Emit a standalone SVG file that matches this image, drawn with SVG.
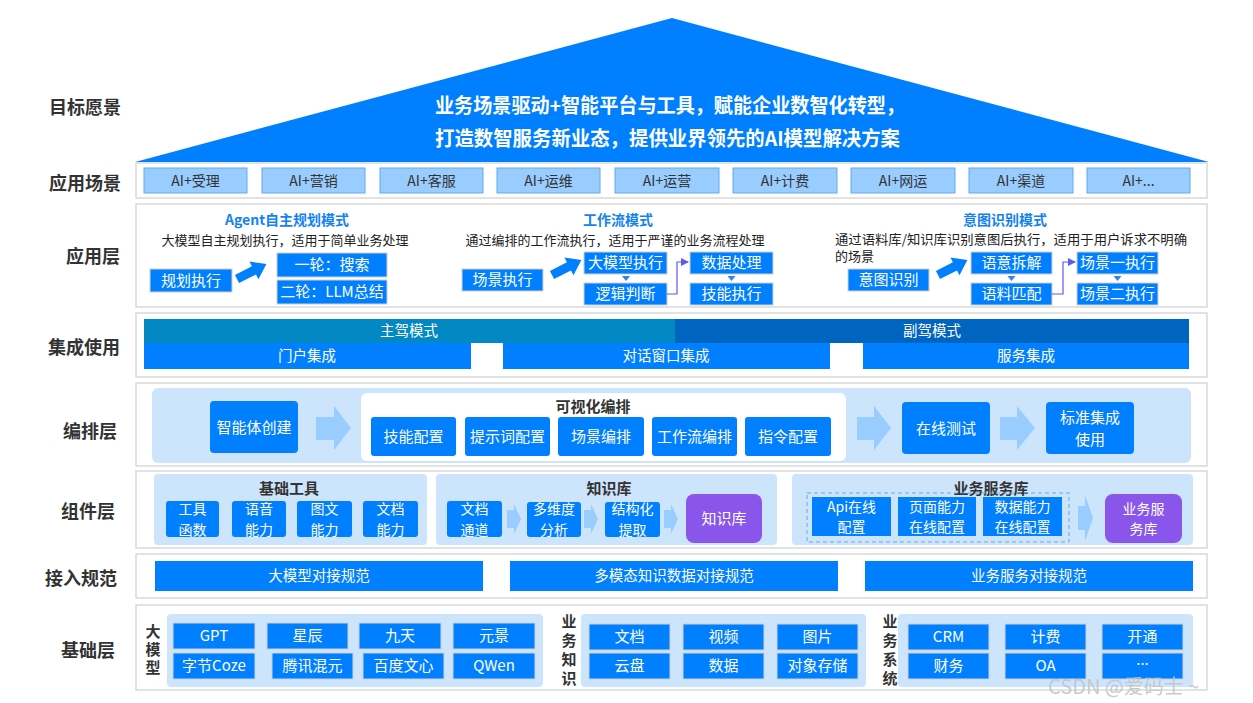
<svg xmlns="http://www.w3.org/2000/svg" width="1253" height="703" viewBox="0 0 1253 703">
<style>
text{font-family:"Noto Sans CJK SC","Noto Sans",sans-serif}
.lbl{font-size:18px;font-weight:bold;fill:#333;text-anchor:middle}
.panel{fill:#fff;stroke:#d9d9d9;stroke-width:1.5}
.cell{fill:#99ccff;stroke:#63aaf0;stroke-width:1}
.ct{font-size:14px;fill:#333;text-anchor:middle}
.bb{fill:#0080ff;stroke:#d0d0d0;stroke-width:1}
.bf{fill:#0080ff}
.wt{font-size:15px;fill:#fff;text-anchor:middle}
.w2{font-size:14px;fill:#fff;text-anchor:middle}
.ws{font-size:14.5px;fill:#fff;text-anchor:middle}
.ttl{font-size:14px;font-weight:bold;fill:#1482f2;text-anchor:middle}
.sub{font-size:13px;fill:#222}
.lb{fill:#cce5fd}
.arr{fill:#99ccff}
.pu{fill:#8a55ea}
.ph{font-size:15px;font-weight:bold;fill:#333;text-anchor:middle}
.vt{font-size:15px;font-weight:bold;fill:#333;text-anchor:middle;writing-mode:vertical-rl}
.conn{fill:none;stroke:#5b5bf5;stroke-width:1.2}
.tri{fill:#3b7fe6}
.fat{fill:#0080ff}
</style>
<defs>
<marker id="ah" markerWidth="8" markerHeight="8" refX="7" refY="4" orient="auto" markerUnits="userSpaceOnUse">
<path d="M0,0 L8,4 L0,8 z" fill="#5b5bf5"/>
</marker>
<path id="fatArrow" d="M0,-4.5 L19,-4.5 L19,-10 L33,0 L19,10 L19,4.5 L0,4.5 z"/>
</defs>
<rect width="1253" height="703" fill="#fff"/>

<!-- left labels -->
<g id="labels">
<text class="lbl" x="85" y="114">目标愿景</text>
<text class="lbl" x="85" y="190">应用场景</text>
<text class="lbl" x="93" y="263">应用层</text>
<text class="lbl" x="84" y="354">集成使用</text>
<text class="lbl" x="90" y="438">编排层</text>
<text class="lbl" x="88" y="518">组件层</text>
<text class="lbl" x="81" y="585">接入规范</text>
<text class="lbl" x="88" y="657">基础层</text>
</g>

<!-- vision triangle -->
<g id="vision">
<polygon points="672,18 1209,162 135,162" fill="#0080ff"/>
<text x="435" y="113" font-size="20" font-weight="bold" fill="#fff" textLength="470" lengthAdjust="spacingAndGlyphs">业务场景驱动+智能平台与工具，赋能企业数智化转型，</text>
<text x="435" y="146" font-size="20" font-weight="bold" fill="#fff" textLength="465" lengthAdjust="spacingAndGlyphs">打造数智服务新业态，提供业界领先的AI模型解决方案</text>
</g>

<!-- scenarios -->
<g id="scenarios">
<rect class="panel" x="136" y="163" width="1071" height="35"/>
<rect class="cell" x="144" y="168" width="103" height="25"/><text class="ct" x="195.5" y="186">AI+受理</text>
<rect class="cell" x="262" y="168" width="103" height="25"/><text class="ct" x="313.5" y="186">AI+营销</text>
<rect class="cell" x="380" y="168" width="103" height="25"/><text class="ct" x="431.5" y="186">AI+客服</text>
<rect class="cell" x="497" y="168" width="103" height="25"/><text class="ct" x="548.5" y="186">AI+运维</text>
<rect class="cell" x="615" y="168" width="104" height="25"/><text class="ct" x="667" y="186">AI+运营</text>
<rect class="cell" x="733" y="168" width="104" height="25"/><text class="ct" x="785" y="186">AI+计费</text>
<rect class="cell" x="851" y="168" width="104" height="25"/><text class="ct" x="903" y="186">AI+网运</text>
<rect class="cell" x="969" y="168" width="104" height="25"/><text class="ct" x="1021" y="186">AI+渠道</text>
<rect class="cell" x="1087" y="168" width="103" height="25"/><text class="ct" x="1138.5" y="186">AI+...</text>
</g>

<!-- application layer -->
<g id="app-layer">
<rect class="panel" x="136" y="204" width="1071" height="103"/>
</g>
<g id="agent-mode">
<text class="ttl" x="287" y="225">Agent自主规划模式</text>
<text class="sub" x="285" y="245" text-anchor="middle">大模型自主规划执行，适用于简单业务处理</text>
<rect class="bb" x="150" y="269" width="82" height="23"/><text class="wt" x="191" y="286">规划执行</text>
<rect class="bb" x="277" y="253" width="110" height="24"/><text class="wt" x="332" y="270">一轮：搜索</text>
<rect class="bb" x="277" y="280" width="110" height="24"/><text class="wt" x="332" y="297">二轮：LLM总结</text>
</g>
<g id="workflow-mode">
<text class="ttl" x="618" y="225">工作流模式</text>
<text class="sub" x="615" y="245" text-anchor="middle">通过编排的工作流执行，适用于严谨的业务流程处理</text>
<rect class="bb" x="462" y="269" width="81" height="22"/><text class="wt" x="502.5" y="285">场景执行</text>
<rect class="bb" x="584" y="252" width="83" height="22"/><text class="wt" x="625.5" y="268">大模型执行</text>
<rect class="bb" x="584" y="283" width="83" height="22"/><text class="wt" x="625.5" y="299">逻辑判断</text>
<rect class="bb" x="690" y="252" width="83" height="22"/><text class="wt" x="731.5" y="268">数据处理</text>
<rect class="bb" x="690" y="283" width="83" height="22"/><text class="wt" x="731.5" y="299">技能执行</text>
</g>
<g id="intent-mode">
<text class="ttl" x="1005" y="225">意图识别模式</text>
<text class="sub" x="835" y="244" textLength="352" lengthAdjust="spacingAndGlyphs">通过语料库/知识库识别意图后执行，适用于用户诉求不明确</text>
<text class="sub" x="835" y="261">的场景</text>
<rect class="bb" x="848" y="269" width="81" height="22"/><text class="wt" x="888.5" y="285">意图识别</text>
<rect class="bb" x="971" y="252" width="81" height="22"/><text class="wt" x="1011.5" y="268">语意拆解</text>
<rect class="bb" x="971" y="283" width="81" height="22"/><text class="wt" x="1011.5" y="299">语料匹配</text>
<rect class="bb" x="1077" y="252" width="81" height="22"/><text class="wt" x="1117.5" y="268">场景一执行</text>
<rect class="bb" x="1077" y="283" width="81" height="22"/><text class="wt" x="1117.5" y="299">场景二执行</text>
</g>

<!-- integration -->
<g id="integration">
<rect class="panel" x="136" y="313" width="1071" height="64"/>
<rect x="144" y="319" width="531" height="24" fill="#0288c2"/>
<rect x="675" y="319" width="514" height="24" fill="#0065c1"/>
<text class="ws" x="409" y="336">主驾模式</text>
<text class="ws" x="932" y="336">副驾模式</text>
<rect class="bf" x="144" y="343" width="327" height="26"/><text class="ws" x="307" y="361">门户集成</text>
<rect class="bf" x="503" y="343" width="327" height="26"/><text class="ws" x="666" y="361">对话窗口集成</text>
<rect class="bf" x="863" y="343" width="326" height="26"/><text class="ws" x="1026" y="361">服务集成</text>
</g>

<!-- orchestration -->
<g id="orchestration">
<rect class="panel" x="136" y="383" width="1071" height="83"/>
<rect class="lb" x="152" y="388" width="1039" height="75" rx="6"/>
<rect class="bf" x="210" y="401" width="88" height="52" rx="4"/><text class="wt" x="254" y="433">智能体创建</text>
<rect x="361" y="393" width="485" height="68" rx="6" fill="#fff"/>
<text class="ph" x="593" y="412">可视化编排</text>
<rect class="bf" x="371" y="417" width="85" height="39" rx="3"/><text class="wt" x="413.5" y="442">技能配置</text>
<rect class="bf" x="465" y="417" width="85" height="39" rx="3"/><text class="wt" x="507.5" y="442">提示词配置</text>
<rect class="bf" x="558" y="417" width="86" height="39" rx="3"/><text class="wt" x="601" y="442">场景编排</text>
<rect class="bf" x="652" y="417" width="85" height="39" rx="3"/><text class="wt" x="694.5" y="442">工作流编排</text>
<rect class="bf" x="745" y="417" width="86" height="39" rx="3"/><text class="wt" x="788" y="442">指令配置</text>
<rect class="bf" x="902" y="402" width="88" height="52" rx="4"/><text class="wt" x="946" y="434">在线测试</text>
<rect class="bf" x="1046" y="402" width="88" height="52" rx="4"/>
<text class="wt"><tspan x="1090" y="422.5">标准集成</tspan><tspan x="1090" y="444.5">使用</tspan></text>
</g>

<!-- components -->
<g id="components">
<rect class="panel" x="136" y="471" width="1071" height="77"/>
<rect class="lb" x="154" y="474" width="273" height="71" rx="4"/>
<text class="ph" x="289" y="494">基础工具</text>
<rect class="bf" x="166" y="501" width="53" height="36" rx="3"/><text class="w2"><tspan x="192.5" y="514">工具</tspan><tspan x="192.5" y="534.5">函数</tspan></text>
<rect class="bf" x="232" y="501" width="54" height="36" rx="3"/><text class="w2"><tspan x="259" y="514">语音</tspan><tspan x="259" y="534.5">能力</tspan></text>
<rect class="bf" x="297" y="501" width="55" height="36" rx="3"/><text class="w2"><tspan x="324.5" y="514">图文</tspan><tspan x="324.5" y="534.5">能力</tspan></text>
<rect class="bf" x="363" y="501" width="55" height="36" rx="3"/><text class="w2"><tspan x="390.5" y="514">文档</tspan><tspan x="390.5" y="534.5">能力</tspan></text>

<rect class="lb" x="436" y="474" width="341" height="71" rx="4"/>
<text class="ph" x="609" y="494">知识库</text>
<rect class="bf" x="447" y="501" width="55" height="36" rx="3"/><text class="w2"><tspan x="474.5" y="514">文档</tspan><tspan x="474.5" y="534.5">通道</tspan></text>
<rect class="bf" x="527" y="502" width="54" height="35" rx="3"/><text class="w2"><tspan x="554" y="514">多维度</tspan><tspan x="554" y="534.5">分析</tspan></text>
<rect class="bf" x="605" y="502" width="55" height="35" rx="3"/><text class="w2"><tspan x="632.5" y="514">结构化</tspan><tspan x="632.5" y="534.5">提取</tspan></text>
<rect class="pu" x="686" y="494" width="76" height="49" rx="8"/><text class="wt" x="724" y="524">知识库</text>

<rect class="lb" x="792" y="474" width="401" height="71" rx="4"/>
<text class="ph" x="991" y="494">业务服务库</text>
<rect x="807" y="493" width="262" height="49" fill="none" stroke="#6aa8e0" stroke-width="1" stroke-dasharray="4,3"/>
<rect class="bf" x="812" y="497" width="79" height="39"/><text class="w2"><tspan x="851.5" y="511.5">Api在线</tspan><tspan x="851.5" y="532">配置</tspan></text>
<rect class="bf" x="898" y="497" width="78" height="39"/><text class="w2"><tspan x="937" y="511.5">页面能力</tspan><tspan x="937" y="532">在线配置</tspan></text>
<rect class="bf" x="983" y="497" width="79" height="39"/><text class="w2"><tspan x="1022.5" y="511.5">数据能力</tspan><tspan x="1022.5" y="532">在线配置</tspan></text>
<rect class="pu" x="1105" y="494" width="77" height="49" rx="8"/><text class="w2"><tspan x="1143.5" y="513.5">业务服</tspan><tspan x="1143.5" y="534">务库</tspan></text>
</g>

<!-- access specs -->
<g id="access">
<rect class="panel" x="136" y="554" width="1071" height="44"/>
<rect class="bf" x="155" y="561" width="328" height="30"/><text class="ws" x="319" y="581">大模型对接规范</text>
<rect class="bf" x="510" y="561" width="328" height="30"/><text class="ws" x="674" y="581">多模态知识数据对接规范</text>
<rect class="bf" x="865" y="561" width="328" height="30"/><text class="ws" x="1029" y="581">业务服务对接规范</text>
</g>

<!-- foundation -->
<g id="foundation">
<rect class="panel" x="136" y="605" width="1071" height="85"/>
<text class="vt" x="153" y="651" letter-spacing="3">大模型</text>
<rect class="lb" x="167" y="614" width="376" height="73" rx="4"/>
<rect class="bb" x="173" y="623" width="82" height="26"/><text class="wt" x="214" y="641">GPT</text>
<rect class="bb" x="267" y="623" width="81" height="26"/><text class="wt" x="307.5" y="641">星辰</text>
<rect class="bb" x="359" y="623" width="82" height="26"/><text class="wt" x="400" y="641">九天</text>
<rect class="bb" x="453" y="623" width="82" height="26"/><text class="wt" x="494" y="641">元景</text>
<rect class="bb" x="173" y="653" width="82" height="26"/><text class="wt" x="214" y="671">字节Coze</text>
<rect class="bb" x="272" y="653" width="81" height="26"/><text class="wt" x="312.5" y="671">腾讯混元</text>
<rect class="bb" x="363" y="653" width="81" height="26"/><text class="wt" x="403.5" y="671">百度文心</text>
<rect class="bb" x="453" y="653" width="82" height="26"/><text class="wt" x="494" y="671">QWen</text>

<text class="vt" x="569" y="652" letter-spacing="4">业务知识</text>
<rect class="lb" x="581" y="614" width="285" height="73" rx="4"/>
<rect class="bb" x="589" y="624" width="81" height="26"/><text class="wt" x="629.5" y="642">文档</text>
<rect class="bb" x="683" y="624" width="81" height="26"/><text class="wt" x="723.5" y="642">视频</text>
<rect class="bb" x="777" y="624" width="81" height="26"/><text class="wt" x="817.5" y="642">图片</text>
<rect class="bb" x="589" y="653" width="81" height="26"/><text class="wt" x="629.5" y="671">云盘</text>
<rect class="bb" x="683" y="653" width="81" height="26"/><text class="wt" x="723.5" y="671">数据</text>
<rect class="bb" x="777" y="653" width="81" height="26"/><text class="wt" x="817.5" y="671">对象存储</text>

<text class="vt" x="890" y="652" letter-spacing="4">业务系统</text>
<rect class="lb" x="898" y="614" width="295" height="73" rx="4"/>
<rect class="bb" x="908" y="624" width="81" height="26"/><text class="wt" x="948.5" y="642">CRM</text>
<rect class="bb" x="1005" y="624" width="81" height="26"/><text class="wt" x="1045.5" y="642">计费</text>
<rect class="bb" x="1102" y="624" width="81" height="26"/><text class="wt" x="1142.5" y="642">开通</text>
<rect class="bb" x="908" y="653" width="81" height="26"/><text class="wt" x="948.5" y="671">财务</text>
<rect class="bb" x="1005" y="653" width="81" height="26"/><text class="wt" x="1045.5" y="671">OA</text>
<rect class="bb" x="1102" y="653" width="81" height="26"/><text class="wt" x="1142.5" y="665">...</text>
</g>

<!-- connectors -->
<g id="connectors">
<use href="#fatArrow" class="fat" transform="translate(237,279) rotate(-27)"/>
<use href="#fatArrow" class="fat" transform="translate(552,275) rotate(-27)"/>
<use href="#fatArrow" class="fat" transform="translate(938,275) rotate(-27)"/>
<polygon class="tri" points="622,276 630,276 626,281"/>
<polygon class="tri" points="727.5,276 735.5,276 731.5,281"/>
<polygon class="tri" points="1007.5,276 1015.5,276 1011.5,281"/>
<polygon class="tri" points="1113.5,276 1121.5,276 1117.5,281"/>
<polyline class="conn" points="667,294 677,294 677,262 688,262" marker-end="url(#ah)"/>
<polyline class="conn" points="1052,294 1063,294 1063,262 1075,262" marker-end="url(#ah)"/>
<polygon class="arr" points="316,417 334,417 334,406 351,428 334,450 334,440 316,440"/>
<polygon class="arr" points="857,417 874,417 874,406 891,428 874,450 874,440 857,440"/>
<polygon class="arr" points="1000,417 1017,417 1017,406 1035,428 1017,450 1017,440 1000,440"/>
<polygon class="arr" points="507,510 514,510 514,504 521,519 514,534 514,528 507,528"/>
<polygon class="arr" points="584,510 591,510 591,504 598,519 591,534 591,528 584,528"/>
<polygon class="arr" points="664,510 671,510 671,504 678,519 671,534 671,528 664,528"/>
<polygon class="arr" points="1078,506 1085,506 1085,495 1093,518 1085,541 1085,530 1078,530"/>
</g>

<text x="1048" y="694" font-size="20" fill="#c4c4c4" fill-opacity="0.9">CSDN @爱码士 ~</text>
</svg>
